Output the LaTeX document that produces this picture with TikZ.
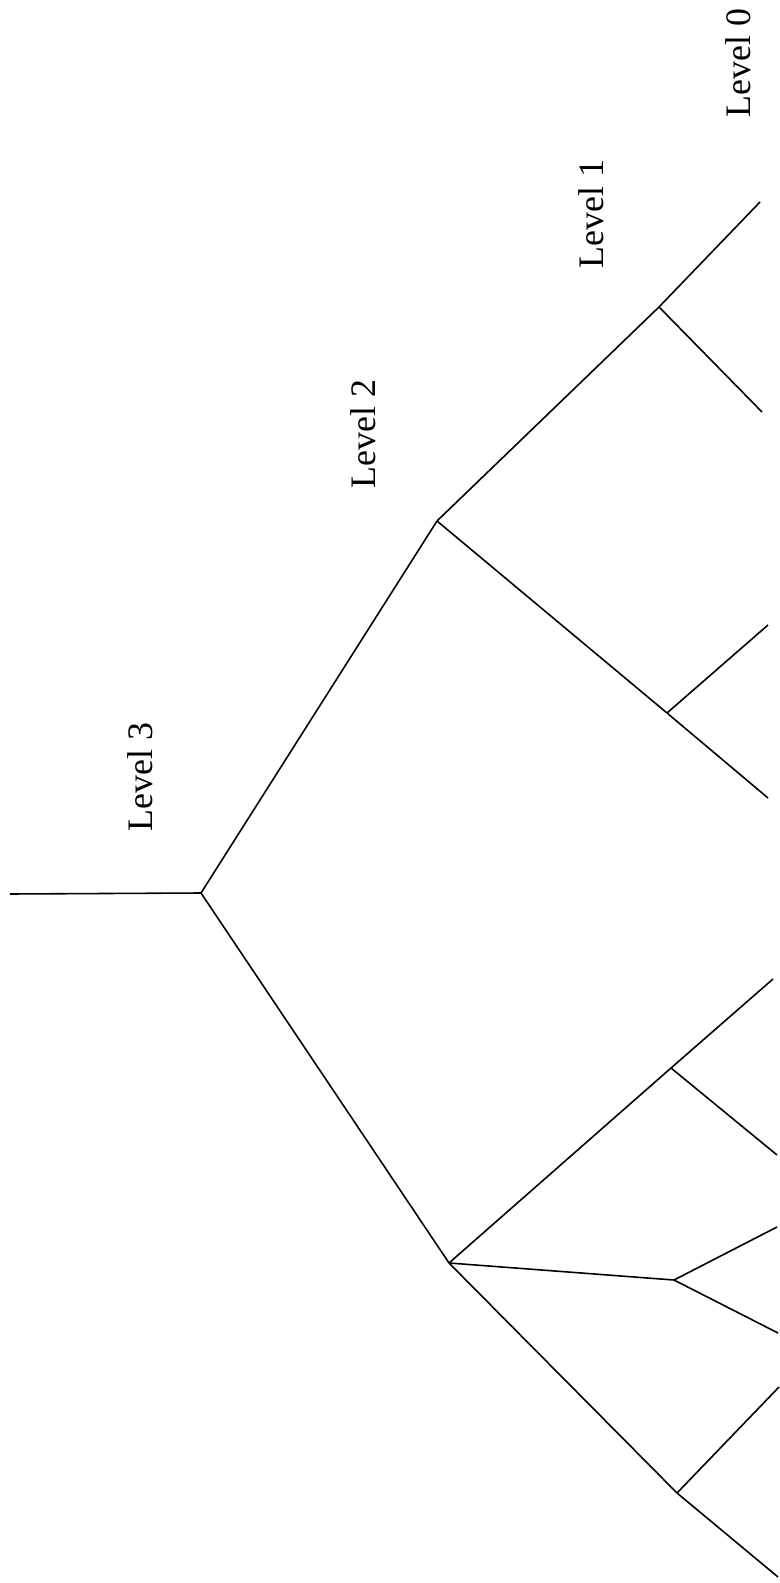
\documentclass[tikz,border=0pt]{standalone}
\usepackage{fontspec}
\setmainfont{Liberation Serif}

\begin{document}
\begin{tikzpicture}[
    x=0.01cm, y=-0.01cm,
    line width=0.45pt,
    level label/.style={rotate=90, anchor=base, inner sep=0pt, font=\fontsize{10.2}{12}\selectfont}
]
    % canvas: 780 x 1583 px
    \path[use as bounding box] (0, 0) rectangle (780, 1583);

    % ==========================================
    % junctions
    % ==========================================
    \coordinate (stem) at (10, 894);
    \coordinate (root) at (201, 893);
    \coordinate (upA)  at (437, 521);
    \coordinate (upB)  at (449, 1263);
    \coordinate (a1)   at (659, 307);
    \coordinate (a2)   at (667, 713);
    \coordinate (b1)   at (671, 1068);
    \coordinate (b2)   at (674, 1280);
    \coordinate (b3)   at (677, 1493);

    % leaves (level 0)
    \coordinate (l1)  at (760, 202);
    \coordinate (l2)  at (762, 412);
    \coordinate (l3)  at (768, 625);
    \coordinate (l4)  at (768, 798);
    \coordinate (l5)  at (773, 979);
    \coordinate (l6)  at (777, 1155);
    \coordinate (l7)  at (777, 1227);
    \coordinate (l8)  at (778, 1333);
    \coordinate (l9)  at (779, 1387);
    \coordinate (l10) at (778, 1577);

    % ==========================================
    % branches
    % ==========================================
    \draw (stem) -- (root);
    \draw (root) -- (upA);
    \draw (root) -- (upB);

    \foreach \from/\to in {upA/a1, a1/l1, a1/l2, upA/a2, a2/l3, a2/l4,
                           upB/b1, b1/l5, b1/l6, upB/b2, b2/l7, b2/l8,
                           upB/b3, b3/l9, b3/l10} {
        \draw (\from) -- (\to);
    }

    % ==========================================
    % level labels
    % ==========================================
    \node[level label] (lev0) at (750, 63)  {Level 0};
    \node[level label] (lev1) at (603, 214) {Level 1};
    \node[level label] (lev2) at (375, 434) {Level 2};
    \node[level label] (lev3) at (152, 777) {Level 3};

\end{tikzpicture}
\end{document}
